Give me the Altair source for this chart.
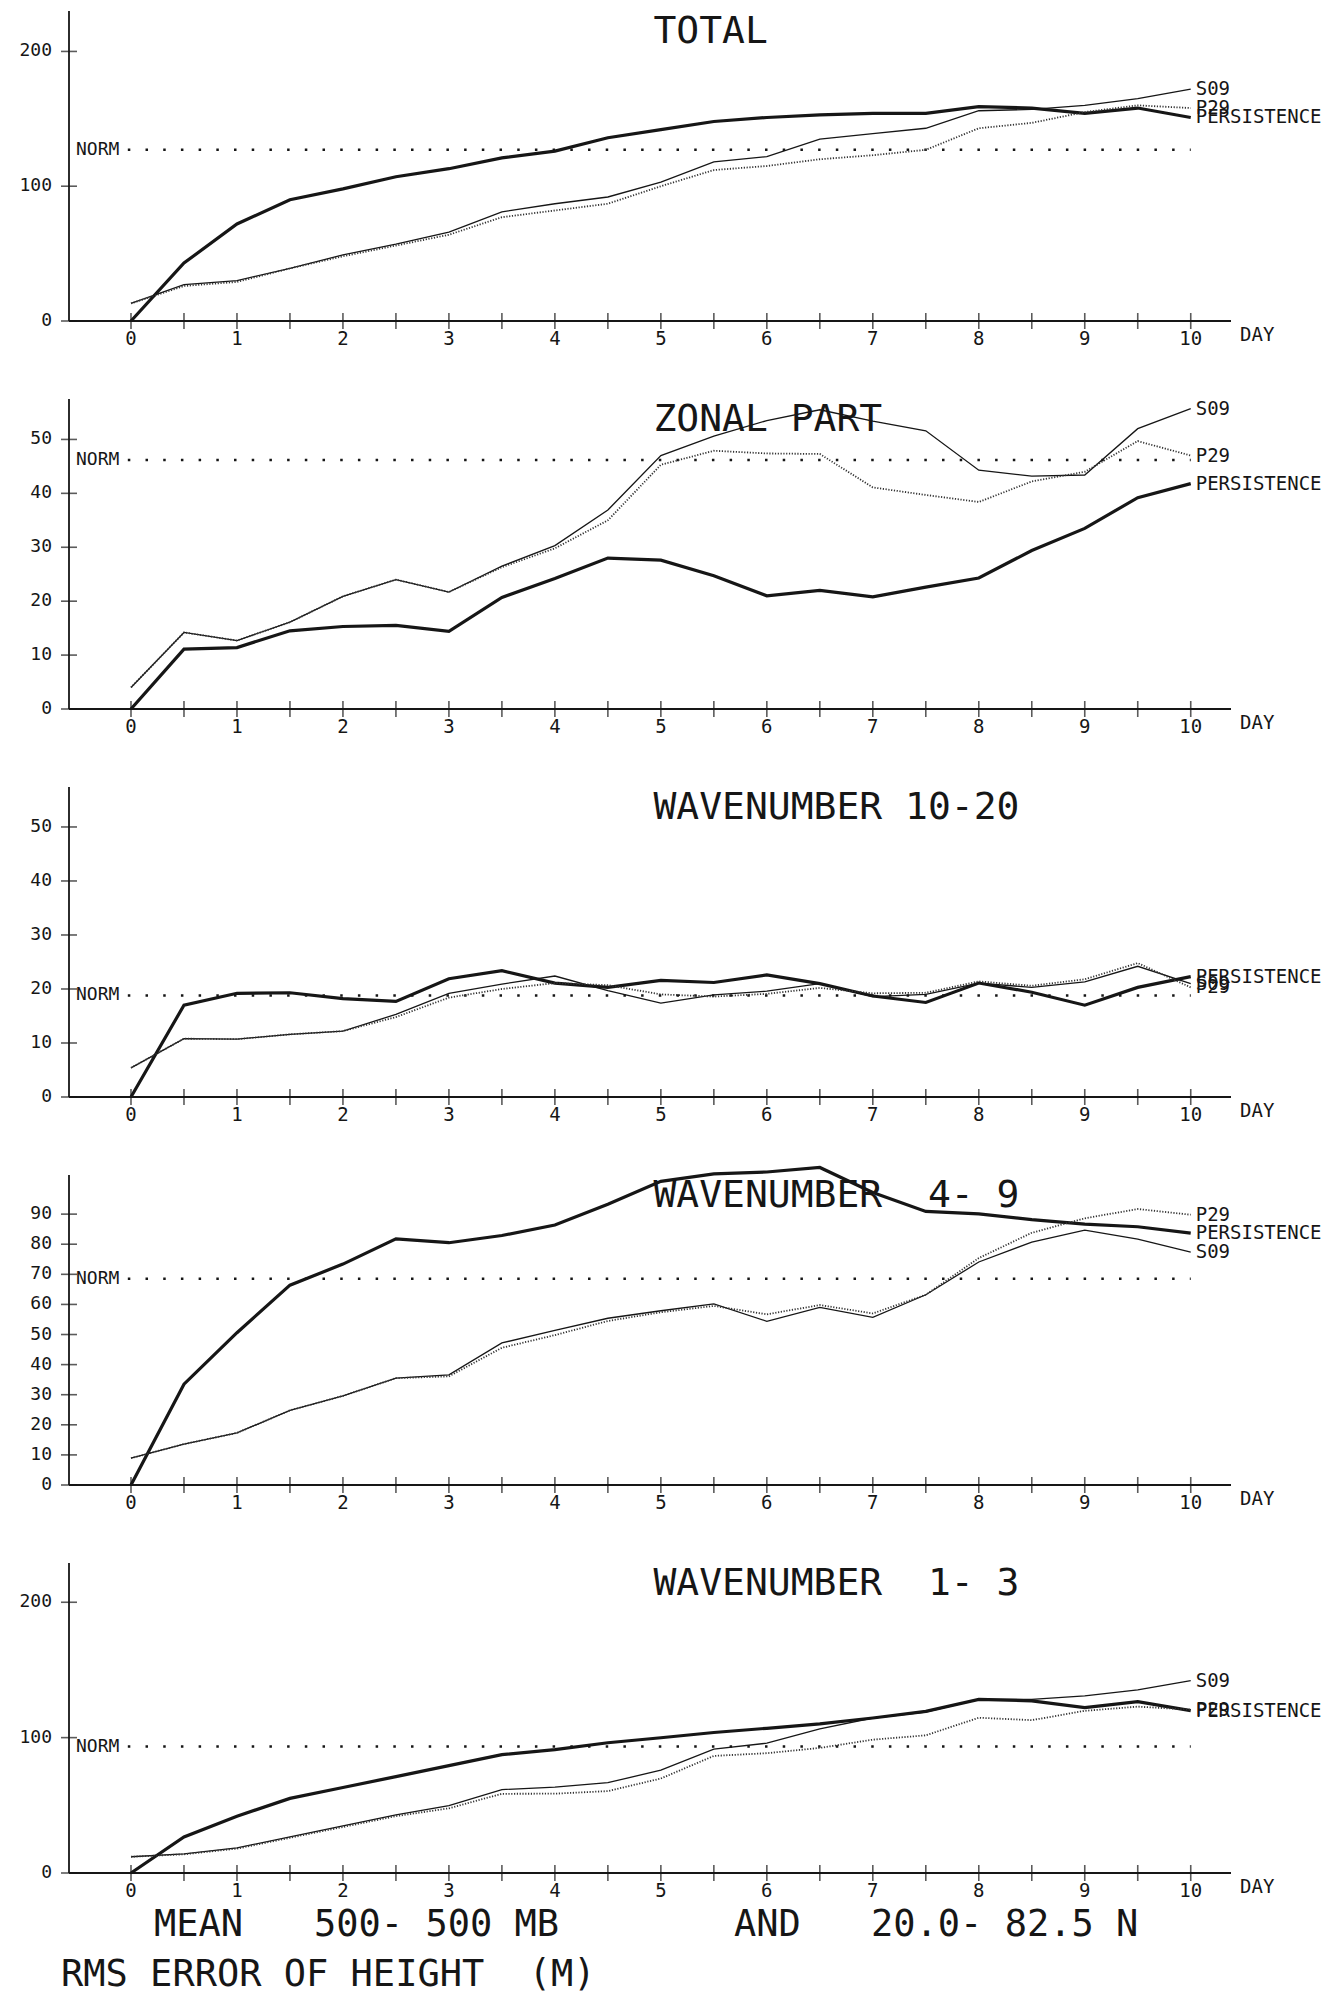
import altair as alt
import pandas as pd

FONT = "DejaVu Sans Mono"
INK = "#161616"

# ---------------- data ----------------
DAYS = [0, 0.5, 1, 1.5, 2, 2.5, 3, 3.5, 4, 4.5, 5, 5.5, 6, 6.5, 7, 7.5, 8, 8.5, 9, 9.5, 10]
X_LABELS = [0, 1, 2, 3, 4, 5, 6, 7, 8, 9, 10]
X_TICKS = [0, 0.5, 1, 1.5, 2, 2.5, 3, 3.5, 4, 4.5, 5, 5.5, 6, 6.5, 7, 7.5, 8, 8.5, 9, 9.5, 10]
SERIES_NAMES = ["S09", "P29", "PERSISTENCE"]

TOTAL_S09 = [13, 27, 30, 39, 49, 57, 66, 81, 87, 92, 103, 118, 122, 135, 139, 143, 156, 157, 160, 165, 172]
TOTAL_P29 = [13, 26, 29, 39, 48, 56, 64, 77, 82, 87, 100, 112, 115, 120, 123, 127, 143, 147, 155, 160, 158]
TOTAL_PERS = [0, 43, 72, 90, 98, 107, 113, 121, 126, 136, 142, 148, 151, 153, 154, 154, 159, 158, 154, 158, 151]
TOTAL_NORM = 127
TOTAL_YTICKS = [0, 100, 200]

ZONAL_S09 = [4.0, 14.2, 12.7, 16.1, 20.9, 24.0, 21.7, 26.5, 30.3, 36.9, 47.0, 50.6, 53.5, 55.5, 53.4, 51.6, 44.3, 43.2, 43.4, 52.0, 55.7]
ZONAL_P29 = [4.0, 14.2, 12.7, 16.1, 20.9, 24.0, 21.7, 26.3, 29.8, 35.0, 45.3, 47.9, 47.4, 47.3, 41.1, 39.7, 38.4, 42.2, 44.0, 49.7, 47.0]
ZONAL_PERS = [0, 11.1, 11.4, 14.5, 15.3, 15.5, 14.4, 20.7, 24.2, 28.0, 27.6, 24.7, 21.0, 22.0, 20.8, 22.6, 24.3, 29.4, 33.5, 39.2, 41.8]
ZONAL_NORM = 46.2
ZONAL_YTICKS = [0, 10, 20, 30, 40, 50]

W1020_S09 = [5.4, 10.8, 10.7, 11.6, 12.2, 15.3, 19.2, 20.9, 22.4, 19.7, 17.4, 18.9, 19.6, 21.0, 18.6, 19.0, 21.1, 20.3, 21.3, 24.2, 21.0]
W1020_P29 = [5.4, 10.8, 10.7, 11.6, 12.2, 14.8, 18.4, 20.0, 21.1, 20.7, 19.0, 18.6, 19.1, 20.2, 19.2, 19.3, 21.4, 20.6, 21.8, 24.8, 20.3]
W1020_PERS = [0, 17.0, 19.2, 19.3, 18.2, 17.7, 21.9, 23.4, 21.1, 20.3, 21.6, 21.2, 22.6, 21.0, 18.7, 17.5, 21.1, 19.4, 17.0, 20.3, 22.3]
W1020_NORM = 18.8
W1020_YTICKS = [0, 10, 20, 30, 40, 50]

W49_S09 = [8.9, 13.6, 17.3, 24.8, 29.6, 35.5, 36.6, 47.2, 51.4, 55.4, 57.9, 60.2, 54.4, 59.0, 55.7, 63.2, 74.1, 80.7, 84.7, 81.7, 77.4]
W49_P29 = [8.9, 13.6, 17.3, 24.8, 29.6, 35.5, 36.1, 45.6, 49.8, 54.5, 57.4, 59.5, 56.7, 59.8, 57.0, 63.2, 75.4, 83.8, 88.6, 91.7, 89.8]
W49_PERS = [0, 33.5, 50.6, 66.4, 73.4, 81.8, 80.5, 82.9, 86.4, 93.3, 100.9, 103.4, 104.0, 105.5, 97.2, 90.9, 90.1, 88.2, 86.7, 85.8, 83.7]
W49_NORM = 68.5
W49_YTICKS = [0, 10, 20, 30, 40, 50, 60, 70, 80, 90]

W13_S09 = [12, 14.2, 18.6, 26.7, 34.8, 42.9, 49.8, 61.6, 63.5, 66.7, 76.0, 91.5, 95.9, 106.4, 114.5, 118.9, 128.2, 128.2, 130.9, 135.3, 142.1]
W13_P29 = [12, 13.8, 18.0, 26.0, 34.0, 42.0, 47.8, 58.5, 58.6, 60.5, 69.8, 86.5, 88.5, 92.4, 98.5, 101.7, 114.7, 112.9, 119.8, 122.9, 120.7]
W13_PERS = [0, 26.6, 42.0, 55.1, 63.2, 71.2, 79.3, 87.4, 91.1, 96.2, 99.9, 103.8, 106.9, 110.1, 114.5, 119.4, 128.2, 127.2, 122.2, 126.6, 120.0]
W13_NORM = 93.4
W13_YTICKS = [0, 100, 200]

TITLES = ["TOTAL", "ZONAL PART", "WAVENUMBER 10-20",
          "WAVENUMBER\u00a0\u00a04-\u00a09", "WAVENUMBER\u00a0\u00a01-\u00a03"]
FOOT_1 = ["MEAN", "500- 500 MB", "AND", "20.0- 82.5 N"]
FOOT_2 = "RMS ERROR OF HEIGHT\u00a0\u00a0(M)"

# ---------------- layout constants ----------------
XMIN, XMAX = -0.585, 10.38
W, H = 1162, 310


def one_row(txt=""):
    return pd.DataFrame({"t": [txt]})


def text_layer(txt, x, y, size, align="left", dx=0, dy=0):
    return alt.Chart(one_row(txt)).mark_text(
        align=align, baseline="middle", font=FONT, fontSize=size, color=INK, dx=dx, dy=dy
    ).encode(x=x, y=y, text="t:N")


def panel(title, s09, p29, pers, norm, ymax, yticks, footer=False):
    n = len(DAYS)
    df = pd.DataFrame({
        "day": DAYS * 3,
        "value": s09 + p29 + pers,
        "series": ["S09"] * n + ["P29"] * n + ["PERSISTENCE"] * n,
    })
    xs = alt.Scale(domain=[XMIN, XMAX], nice=False, zero=False)
    ys = alt.Scale(domain=[0, ymax], nice=False)

    def X(field="day"):
        return alt.X(f"{field}:Q", scale=xs, axis=None)

    def Y(field="value"):
        return alt.Y(f"{field}:Q", scale=ys, axis=None)

    base = alt.Chart(df).encode(x=X(), y=Y())
    pers_line = base.transform_filter(alt.datum.series == "PERSISTENCE").mark_line(
        color=INK, strokeWidth=3.2)
    s09_line = base.transform_filter(alt.datum.series == "S09").mark_line(
        color=INK, strokeWidth=1.3)
    p29_line = base.transform_filter(alt.datum.series == "P29").mark_line(
        color="#333333", strokeWidth=1.8, strokeDash=[1.2, 1.6])

    # axis lines
    x_axis = alt.Chart(one_row()).mark_rule(color=INK, strokeWidth=1.8).encode(
        x=alt.XDatum(XMIN, scale=xs, axis=None), x2=alt.X2Datum(XMAX),
        y=alt.YDatum(0, scale=ys, axis=None))
    y_axis = alt.Chart(one_row()).mark_rule(color=INK, strokeWidth=1.8).encode(
        x=alt.XDatum(XMIN, scale=xs, axis=None),
        y=alt.YDatum(0, scale=ys, axis=None), y2=alt.Y2Datum(ymax))

    # crossing ticks on the axes
    xt = alt.Chart(pd.DataFrame({"day": X_TICKS})).mark_tick(
        orient="vertical", size=16, thickness=1.6, color=INK
    ).encode(x=X(), y=alt.YDatum(0, scale=ys, axis=None))
    yt = alt.Chart(pd.DataFrame({"value": yticks})).mark_tick(
        orient="horizontal", size=16, thickness=1.6, color=INK
    ).encode(x=alt.XDatum(XMIN, scale=xs, axis=None), y=Y())

    # tick labels
    xl = alt.Chart(pd.DataFrame({"day": X_LABELS})).mark_text(
        align="center", baseline="middle", dy=18, font=FONT, fontSize=19, color=INK
    ).encode(x=X(), y=alt.YDatum(0, scale=ys, axis=None), text=alt.Text("day:Q", format="d"))
    yl = alt.Chart(pd.DataFrame({"value": yticks})).mark_text(
        align="right", baseline="middle", dx=-17, font=FONT, fontSize=18, color=INK
    ).encode(x=alt.XDatum(XMIN, scale=xs, axis=None), y=Y(),
             text=alt.Text("value:Q", format="d"))

    # NORM dotted line + label
    norm_rule = alt.Chart(pd.DataFrame({"value": [norm]})).mark_rule(
        color=INK, strokeWidth=2.5, strokeDash=[2.5, 15.2]
    ).encode(x=alt.XDatum(-0.03, scale=xs, axis=None), x2=alt.X2Datum(10), y=Y())
    norm_lbl = alt.Chart(pd.DataFrame({"value": [norm], "t": ["NORM"]})).mark_text(
        align="left", baseline="middle", dx=7, font=FONT, fontSize=18, color=INK
    ).encode(x=alt.XDatum(XMIN, scale=xs, axis=None), y=Y(), text="t:N")

    # series end labels
    end_df = pd.DataFrame({"day": [DAYS[-1]] * 3,
                           "value": [s09[-1], p29[-1], pers[-1]],
                           "label": SERIES_NAMES})
    end_lbl = alt.Chart(end_df).mark_text(
        align="left", baseline="middle", dx=5, font=FONT, fontSize=19, color=INK
    ).encode(x=X(), y=Y(), text="label:N")

    day_lbl = text_layer("DAY", alt.XDatum(XMAX, scale=xs, axis=None),
                         alt.YDatum(0, scale=ys, axis=None), 19, dx=9, dy=14)

    title_lbl = text_layer(title, alt.XDatum(4.93, scale=xs, axis=None), alt.value(21), 38)

    layers = [x_axis, y_axis, xt, yt, xl, yl, norm_rule, norm_lbl,
              pers_line, s09_line, p29_line, end_lbl, day_lbl, title_lbl]

    if footer:
        fx = [85, 245, 665, 802]
        for txt, xpos in zip(FOOT_1, fx):
            layers.append(text_layer(txt, alt.value(xpos), alt.value(H + 52), 37))
        layers.append(text_layer(FOOT_2, alt.value(-8), alt.value(H + 102), 37))

    return alt.layer(*layers).properties(width=W, height=H)


panels = [
    panel(TITLES[0], TOTAL_S09, TOTAL_P29, TOTAL_PERS, TOTAL_NORM, 230, TOTAL_YTICKS),
    panel(TITLES[1], ZONAL_S09, ZONAL_P29, ZONAL_PERS, ZONAL_NORM, 57.5, ZONAL_YTICKS),
    panel(TITLES[2], W1020_S09, W1020_P29, W1020_PERS, W1020_NORM, 57.4, W1020_YTICKS),
    panel(TITLES[3], W49_S09, W49_P29, W49_PERS, W49_NORM, 103, W49_YTICKS),
    panel(TITLES[4], W13_S09, W13_P29, W13_PERS, W13_NORM, 229, W13_YTICKS, footer=True),
]

chart = alt.vconcat(*panels, spacing=78, bounds="flush").resolve_scale(
    x="independent", y="independent"
).properties(
    padding={"left": 19, "top": 10, "right": 4, "bottom": 2},
    background="white",
).configure_view(stroke=None)

chart.save("out.html", embed_options={"renderer": "svg", "actions": False})
